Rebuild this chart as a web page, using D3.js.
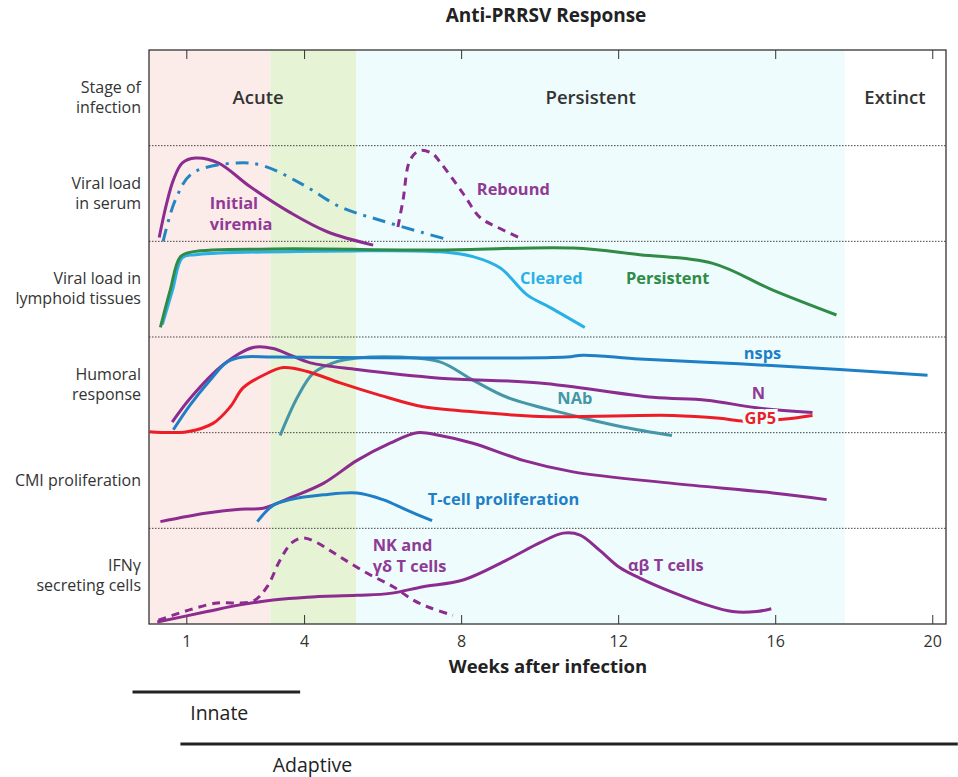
<!DOCTYPE html>
<html lang="en">
<head>
<meta charset="utf-8">
<title>Anti-PRRSV Response</title>
<script src="https://cdn.jsdelivr.net/npm/d3@7/dist/d3.min.js"></script>
<style>
  body { margin: 0; background: #fff; }
  svg text { font-family: "Open Sans", "Noto Sans", sans-serif; }
</style>
</head>
<body>
<div id="chart"></div>
<script>
// ---- data (weeks after infection, value 0..1 inside each row) ----
const weekTicks = [1, 4, 8, 12, 16, 20];

const rowKeys = ["stage", "serum", "lymph", "humoral", "cmi", "ifn"];
const rowLabels = [
  ["Stage of", "infection"],
  ["Viral load", "in serum"],
  ["Viral load in", "lymphoid tissues"],
  ["Humoral", "response"],
  ["CMI proliferation"],
  ["IFN\u03b3", "secreting cells"]
];

const phaseNames = ["acute", "transition", "persistent"];
const phaseStart = [0.05, 3.14, 5.33];
const phaseEnd = [3.14, 5.33, 17.77];

const stageNames = ["Acute", "Persistent", "Extinct"];
const stageWeeks = [2.83, 11.3, 19.05];

// viral load in serum
const initialViremia = [[0.31,0.04],[0.49,0.38],[0.67,0.64],[0.9,0.82],[1.23,0.87],[1.81,0.82],[2.63,0.57],[3.65,0.3],[4.59,0.1],[5.76,-0.04]];
const serumDashDot = [[0.41,0.0],[0.72,0.43],[1.15,0.71],[2.3,0.82],[2.96,0.79],[3.98,0.59],[4.92,0.36],[5.94,0.22],[7.03,0.09],[7.64,0.02]];
const rebound = [[6.39,0.15],[6.52,0.43],[6.7,0.85],[6.95,0.95],[7.26,0.92],[7.46,0.83],[8.05,0.5],[8.48,0.25],[8.91,0.15],[9.5,0.035]];

// viral load in lymphoid tissues
const lymphPersistent = [[0.34,0.1],[0.59,0.49],[0.85,0.84],[1.15,0.89],[3.21,0.92],[7.46,0.91],[10.85,0.93],[12.55,0.86],[14.41,0.77],[15.94,0.49],[17.56,0.23]];
const lymphCleared = [[0.39,0.13],[0.65,0.49],[0.9,0.83],[1.23,0.86],[5.25,0.9],[7.46,0.89],[8.3,0.84],[9.0,0.72],[9.68,0.44],[10.26,0.31],[11.15,0.1]];

// humoral response
const nsps = [[0.67,0.03],[1.1,0.29],[1.61,0.55],[2.04,0.74],[2.45,0.79],[3.21,0.79],[7.46,0.78],[10.69,0.79],[11.1,0.81],[12.55,0.77],[15.08,0.72],[17.64,0.66],[19.88,0.6]];
const nProtein = [[0.64,0.11],[1.1,0.36],[1.94,0.71],[2.7,0.89],[3.21,0.88],[3.65,0.81],[4.16,0.73],[5.35,0.66],[7.46,0.57],[10.0,0.52],[12.88,0.37],[14.25,0.34],[15.52,0.26],[16.95,0.21]];
const gp5 = [[0.06,0.01],[1.02,0.01],[1.69,0.1],[2.12,0.27],[2.45,0.47],[2.96,0.6],[3.47,0.68],[4.08,0.64],[4.92,0.52],[5.94,0.39],[7.03,0.27],[7.97,0.23],[10.01,0.17],[13.39,0.18],[14.59,0.15],[15.22,0.12],[16.19,0.14],[16.95,0.18]];
const nab = [[3.39,-0.03],[3.83,0.37],[4.23,0.62],[4.74,0.73],[5.35,0.78],[6.45,0.79],[7.46,0.74],[8.3,0.55],[9.17,0.37],[10.85,0.18],[12.12,0.06],[13.37,-0.03]];

// CMI proliferation
const cmi = [[0.34,0.07],[1.53,0.16],[2.37,0.2],[2.96,0.21],[3.65,0.32],[4.49,0.47],[5.35,0.71],[6.19,0.89],[6.88,1.0],[7.46,0.97],[8.3,0.89],[9.58,0.71],[10.85,0.59],[13.39,0.47],[15.94,0.37],[17.31,0.3]];
const tCell = [[2.81,0.07],[3.21,0.24],[3.65,0.3],[4.49,0.35],[5.35,0.37],[6.01,0.3],[6.62,0.19],[7.26,0.08]];

// IFN-gamma secreting cells
const nkCells = [[0.29,0.04],[1.1,0.15],[1.79,0.22],[2.2,0.22],[2.71,0.24],[3.06,0.39],[3.39,0.67],[3.69,0.85],[3.98,0.9],[4.33,0.85],[4.92,0.7],[5.61,0.53],[6.27,0.39],[6.78,0.25],[7.21,0.17],[7.79,0.09]];
const abCells = [[0.26,0.02],[1.53,0.13],[2.37,0.2],[3.21,0.25],[4.08,0.28],[5.35,0.3],[6.19,0.32],[7.03,0.39],[8.05,0.46],[9.17,0.67],[10.01,0.85],[10.6,0.95],[11.03,0.93],[11.53,0.77],[12.04,0.59],[12.55,0.48],[13.39,0.33],[14.25,0.2],[14.91,0.13],[15.52,0.13],[15.9,0.16]];

// series table
const series = [
  { row: "serum", pts: initialViremia, color: "#8b2c8e", dash: null },
  { row: "serum", pts: serumDashDot, color: "#2386c2", dash: "13,7,3,7" },
  { row: "serum", pts: rebound, color: "#8b2c8e", dash: "8,6" },
  { row: "lymph", pts: lymphCleared, color: "#2ab0e6", dash: null },
  { row: "lymph", pts: lymphPersistent, color: "#2f8b45", dash: null },
  { row: "humoral", pts: nab, color: "#4596a6", dash: null },
  { row: "humoral", pts: gp5, color: "#ec1d27", dash: null },
  { row: "humoral", pts: nProtein, color: "#8b2c8e", dash: null },
  { row: "humoral", pts: nsps, color: "#1f7fc6", dash: null },
  { row: "cmi", pts: cmi, color: "#8b2c8e", dash: null },
  { row: "cmi", pts: tCell, color: "#1f7fc6", dash: null },
  { row: "ifn", pts: nkCells, color: "#8b2c8e", dash: "8,6" },
  { row: "ifn", pts: abCells, color: "#8b2c8e", dash: null }
];

// curve labels: text lines, row, week (left), value
const curveLabels = [
  { text: ["Initial", "viremia"], row: "serum", w: 1.6, v: 0.38, color: "#8f3a95" },
  { text: ["Rebound"], row: "serum", w: 8.4, v: 0.53, color: "#8f3a95" },
  { text: ["Cleared"], row: "lymph", w: 9.5, v: 0.6, color: "#2ab0e6" },
  { text: ["Persistent"], row: "lymph", w: 12.2, v: 0.6, color: "#2f8b45" },
  { text: ["nsps"], row: "humoral", w: 15.2, v: 0.81, color: "#1f7fc6" },
  { text: ["N"], row: "humoral", w: 15.4, v: 0.39, color: "#8f3a95" },
  { text: ["NAb"], row: "humoral", w: 10.45, v: 0.34, color: "#4596a6" },
  { text: ["GP5"], row: "humoral", w: 15.22, v: 0.13, color: "#ec1d27", halo: true },
  { text: ["T-cell proliferation"], row: "cmi", w: 7.15, v: 0.29, color: "#1f7fc6" },
  { text: ["NK and", "\u03b3\u03b4 T cells"], row: "ifn", w: 5.75, v: 0.8, color: "#8f3a95" },
  { text: ["\u03b1\u03b2 T cells"], row: "ifn", w: 12.25, v: 0.6, color: "#8f3a95" }
];

// innate / adaptive bars (weeks)
const immunityNames = ["Innate", "Adaptive"];
const immunityStart = [-0.37, 0.85];
const immunityEnd = [3.9, 20.65];
const immunityTextWeek = [1.1, 3.2];

// ---- drawing ----
const width = 958, height = 777;
const plot = { left: 149, right: 946, top: 50, bottom: 624 };

const svg = d3.select("#chart").append("svg")
  .attr("width", width)
  .attr("height", height);

const x = d3.scaleLinear().domain([0.05, 20.35]).range([plot.left, plot.right]);
const rows = d3.scaleBand().domain(rowKeys).range([plot.top, plot.bottom]);
const yRow = (row, v) => rows(row) + (1 - v) * rows.bandwidth();

const phaseColor = d3.scaleOrdinal().domain(phaseNames).range(["#fcece9", "#e6f3d5", "#eefcfd"]);

// background phases
svg.append("g").selectAll("rect")
  .data(phaseNames)
  .join("rect")
  .attr("x", (d, i) => x(phaseStart[i]))
  .attr("width", (d, i) => x(phaseEnd[i]) - x(phaseStart[i]))
  .attr("y", plot.top)
  .attr("height", plot.bottom - plot.top)
  .attr("fill", d => phaseColor(d));

// dotted row separators
svg.append("g").selectAll("line")
  .data(rowKeys.slice(1))
  .join("line")
  .attr("x1", plot.left).attr("x2", plot.right)
  .attr("y1", d => rows(d)).attr("y2", d => rows(d))
  .attr("stroke", "#444")
  .attr("stroke-width", 1)
  .attr("stroke-dasharray", "1.5,1.5");

// axes (ticks inward top and bottom)
svg.append("g")
  .attr("transform", `translate(0,${plot.bottom})`)
  .call(d3.axisBottom(x).tickValues(weekTicks).tickSizeInner(-9).tickSizeOuter(0).tickPadding(12))
  .call(g => g.select(".domain").remove())
  .call(g => g.selectAll("line").attr("stroke", "#333"))
  .call(g => g.selectAll("text").attr("font-size", 16).attr("fill", "#333")
    .attr("font-family", "'Open Sans', sans-serif"));

svg.append("g")
  .attr("transform", `translate(0,${plot.top})`)
  .call(d3.axisTop(x).tickValues(weekTicks).tickSizeInner(-9).tickSizeOuter(0).tickFormat(""))
  .call(g => g.select(".domain").remove())
  .call(g => g.selectAll("line").attr("stroke", "#333"));

svg.append("rect")
  .attr("x", plot.left).attr("y", plot.top)
  .attr("width", plot.right - plot.left).attr("height", plot.bottom - plot.top)
  .attr("fill", "none").attr("stroke", "#333").attr("stroke-width", 1.3);

// curves
const line = d3.line().curve(d3.curveCatmullRom.alpha(0.5));
svg.append("g").selectAll("path")
  .data(series)
  .join("path")
  .attr("d", s => line(s.pts.map(p => [x(p[0]), yRow(s.row, p[1])])))
  .attr("fill", "none")
  .attr("stroke", s => s.color)
  .attr("stroke-width", 3)
  .attr("stroke-linecap", "butt")
  .attr("stroke-dasharray", s => s.dash);

// curve labels
const labelG = svg.append("g").selectAll("text")
  .data(curveLabels)
  .join("text")
  .attr("x", d => x(d.w))
  .attr("y", d => yRow(d.row, d.v))
  .attr("font-size", 16.4)
  .attr("font-weight", 700)
  .attr("fill", d => d.color)
  .attr("stroke", d => d.halo ? phaseColor("persistent") : null)
  .attr("stroke-width", d => d.halo ? 6 : null)
  .attr("paint-order", "stroke")
  .attr("dominant-baseline", "middle");
labelG.selectAll("tspan")
  .data(d => d.text.map((t, i) => ({ t, i })))
  .join("tspan")
  .attr("x", function () { return d3.select(this.parentNode).attr("x"); })
  .attr("dy", d => d.i === 0 ? 0 : 21)
  .text(d => d.t);

// stage names
svg.append("g").selectAll("text")
  .data(stageNames)
  .join("text")
  .attr("x", (d, i) => x(stageWeeks[i]))
  .attr("y", yRow("stage", 0.5) + 1)
  .attr("text-anchor", "middle")
  .attr("dominant-baseline", "middle")
  .attr("font-size", 18.5)
  .attr("font-weight", 600)
  .attr("fill", "#333")
  .text(d => d);

// row labels
const rowText = svg.append("g").selectAll("text")
  .data(rowKeys)
  .join("text")
  .attr("x", 141)
  .attr("y", (d, i) => rows(d) + rows.bandwidth() / 2 + 1 - (rowLabels[i].length - 1) * 10)
  .attr("text-anchor", "end")
  .attr("dominant-baseline", "middle")
  .attr("font-size", 16)
  .attr("fill", "#333");
rowText.selectAll("tspan")
  .data((d, i) => rowLabels[i].map((t, j) => ({ t, j })))
  .join("tspan")
  .attr("x", 141)
  .attr("dy", d => d.j === 0 ? 0 : 20)
  .text(d => d.t);

// title and axis title
svg.append("text")
  .attr("x", 546).attr("y", 17)
  .attr("text-anchor", "middle").attr("dominant-baseline", "middle")
  .attr("font-size", 19).attr("font-weight", 700).attr("fill", "#222")
  .text("Anti-PRRSV Response");

svg.append("text")
  .attr("x", 548).attr("y", 668)
  .attr("text-anchor", "middle").attr("dominant-baseline", "middle")
  .attr("font-size", 18.5).attr("font-weight", 700).attr("fill", "#222")
  .text("Weeks after infection");

// innate / adaptive
const imm = svg.append("g");
imm.selectAll("line")
  .data(immunityNames)
  .join("line")
  .attr("x1", (d, i) => x(immunityStart[i]))
  .attr("x2", (d, i) => x(immunityEnd[i]))
  .attr("y1", (d, i) => 692 + i * 52)
  .attr("y2", (d, i) => 692 + i * 52)
  .attr("stroke", "#222")
  .attr("stroke-width", 3);
imm.selectAll("text")
  .data(immunityNames)
  .join("text")
  .attr("x", (d, i) => x(immunityTextWeek[i]))
  .attr("y", (d, i) => 715 + i * 52)
  .attr("dominant-baseline", "middle")
  .attr("font-size", 19.5)
  .attr("font-family", "'Liberation Sans Narrow', 'DejaVu Sans Condensed', sans-serif")
  .attr("fill", "#222")
  .text(d => d);
</script>
</body>
</html>
